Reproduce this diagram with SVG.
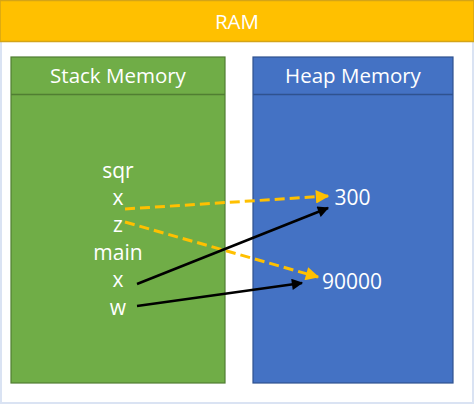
<svg xmlns="http://www.w3.org/2000/svg" width="474" height="404" viewBox="0 0 474 404">
<defs>
<style>
.t{font-family:"Open Sans","Liberation Sans",sans-serif;fill:#ffffff;text-anchor:middle}
.h{font-size:20.5px}
.v{font-size:21px}
.ya{fill:none;stroke:#ffc000;stroke-width:3;stroke-dasharray:10 5}
.ba{fill:none;stroke:#000000;stroke-width:2.5}
</style>
<marker id="my" viewBox="0 0 10 10" refX="9" refY="5" markerWidth="5" markerHeight="4.5" orient="auto" markerUnits="strokeWidth"><path d="M0,0 L10,5 L0,10 Z" fill="#ffc000"/></marker>
<marker id="mb" viewBox="0 0 10 10" refX="9" refY="5" markerWidth="5.5" markerHeight="4.5" orient="auto" markerUnits="strokeWidth"><path d="M0,0 L10,5 L0,10 Z" fill="#000000"/></marker>
</defs>
<rect x="0" y="0" width="474" height="404" fill="#ffffff"/>
<rect x="1" y="1" width="472" height="402" fill="none" stroke="#dae3f3" stroke-width="2"/>
<g id="ram">
<rect x="0" y="0.5" width="474" height="41" fill="#ffc000" stroke="#d4a417" stroke-width="1.5"/>
<text class="t h" x="237" y="29">RAM</text>
</g>
<g id="stack">
<rect x="11" y="57" width="214" height="326" fill="#70ad47" stroke="#507e32" stroke-width="1.2"/>
<line x1="11" y1="94.5" x2="225" y2="94.5" stroke="#507e32" stroke-width="1.5"/>
<text class="t h" x="118" y="83">Stack Memory</text>
<text class="t v" x="118" y="178">sqr</text>
<text class="t v" x="118" y="205">x</text>
<text class="t v" x="118" y="232">z</text>
<text class="t v" x="118" y="260">main</text>
<text class="t v" x="118" y="287">x</text>
<text class="t v" x="118" y="315">w</text>
</g>
<g id="heap">
<rect x="253" y="57" width="200" height="326" fill="#4472c4" stroke="#2f528f" stroke-width="1.2"/>
<line x1="253" y1="94.5" x2="453" y2="94.5" stroke="#2f528f" stroke-width="1.5"/>
<text class="t h" x="353" y="83">Heap Memory</text>
<text class="t v" x="352.5" y="205">300</text>
<text class="t v" x="352" y="289">90000</text>
</g>
<g id="connectors">
<line class="ya" x1="125" y1="209" x2="328" y2="196" marker-end="url(#my)"/>
<line class="ya" x1="125" y1="222" x2="318" y2="277" marker-end="url(#my)"/>
<line class="ba" x1="137" y1="284" x2="328" y2="208" marker-end="url(#mb)"/>
<line class="ba" x1="137" y1="306" x2="302" y2="283" marker-end="url(#mb)"/>
</g>
</svg>
